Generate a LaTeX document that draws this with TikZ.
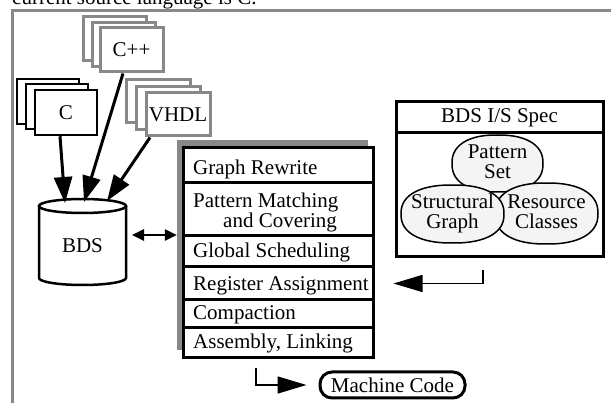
\documentclass[tikz,border=0pt]{standalone}
\usepackage{fontspec}
\setmainfont{Liberation Serif}
\usetikzlibrary{arrows.meta,shapes.geometric,calc}
\definecolor{framegray}{HTML}{888888}
\definecolor{ellfill}{HTML}{F4F4F4}
\newcommand\superell[3]{\draw[line width=1.5pt,fill=ellfill,shift={(#1)}] plot[domain=2.5:357.5,samples=72,smooth cycle] ({#2*sign(cos(\x))*abs(cos(\x))^0.85},{#3*sign(sin(\x))*abs(sin(\x))^0.85});}
\begin{document}
\begin{tikzpicture}[x=1pt,y=-1pt,
  txt/.style={font=\fontsize{21pt}{20pt}\selectfont},
  blackpage/.style={draw=black,fill=white,line width=2.5pt,minimum width=62pt,minimum height=45pt,inner sep=0pt,txt},
  graypage/.style={draw=framegray,fill=white,line width=3pt,minimum width=63pt,minimum height=44pt,inner sep=0pt,txt},
  bigarrow/.style={line width=3pt,-{Triangle[length=26pt,width=18pt]}},
  thinarrow/.style={line width=1.5pt,-{Triangle[length=29pt,width=17pt]}},
  phase/.style={draw=black,fill=white,line width=3pt,minimum width=190pt,inner sep=0pt},
  phasetxt/.style={txt,anchor=base west,inner sep=0pt},
  blob/.style={inner sep=0pt,align=center,txt},
  specbox/.style={draw=black,fill=white,line width=3pt,minimum width=207pt,inner sep=0pt,txt}]
\useasboundingbox (0,0) rectangle (611,403);
\clip (0,0) rectangle (611,403);
% caption fragment and outer frame
\node[txt,anchor=base west,inner sep=0pt] (cap) at (12,5) {current source language is C.};
\draw[framegray,line width=3.5pt] (12.5,420) -- (12.5,10.5) -- (630,10.5);
% C++ stack
\node[graypage] (cppb) at (114.5,39) {};
\node[graypage] (cppm) at (123.5,45) {};
\node[graypage] (cppf) at (131.5,50) {C++};
% C stack
\node[blackpage] (cb) at (48,101.5) {};
\node[blackpage] (cm) at (57,106.5) {};
\node[blackpage] (cf) at (66,112.5) {C};
% VHDL stack
\node[graypage,minimum width=64pt,minimum height=43pt] (vb) at (158,101.5) {};
\node[graypage,minimum width=64pt,minimum height=43pt] (vm) at (168,108) {};
\node[graypage,minimum width=64pt,minimum height=43pt] (vf) at (178,114.5) {VHDL};
% BDS cylinder
\draw[line width=2.5pt,fill=white] (39,206) -- (39,278) arc[start angle=180,end angle=0,x radius=43.5,y radius=7] -- (126,206);
\draw[line width=2.5pt,fill=white] (82.5,206) ellipse[x radius=43.5,y radius=7];
\node[txt,minimum width=87pt,minimum height=70pt,inner sep=0pt] (bds) at (82.5,246) {BDS};
\coordinate (bdsA) at (65,203);
\coordinate (bdsB) at (84,202);
\coordinate (bdsC) at (107,201);
\draw[bigarrow] ([xshift=-6pt]cf.south) -- (bdsA);
\draw[bigarrow] ([xshift=-8.5pt]cppf.south) -- (bdsB);
\draw[bigarrow] ([xshift=-28pt]vf.south) -- (bdsC);
% phase stack
\node[fill=framegray,minimum width=191pt,minimum height=210pt,inner sep=0pt] (shadow) at (272.5,245) {};
\node[phase,minimum height=35pt] (gr) at (278,165.5) {};
\node[phase,minimum height=53pt] (pm) at (278,209.5) {};
\node[phase,minimum height=31pt] (gs) at (278,251.5) {};
\node[phase,minimum height=33pt] (reg) at (278,283.5) {};
\node[phase,minimum height=28pt] (cmp) at (278,314) {};
\node[phase,minimum height=30pt] (asm) at (278,343) {};
\node[phasetxt] (tgr) at (193,175) {Graph Rewrite};
\node[phasetxt] (tpm1) at (193,208) {Pattern Matching};
\node[phasetxt] (tpm2) at (223,228) {and Covering};
\node[phasetxt] (tgs) at (193,258) {Global Scheduling};
\node[phasetxt] (treg) at (193,291) {Register Assignment};
\node[phasetxt] (tcmp) at (193,320) {Compaction};
\node[phasetxt] (tasm) at (193,349) {Assembly, Linking};
% double arrow BDS <-> phases
\coordinate (d1) at (132,235);
\draw[line width=2.5pt,{Triangle[length=12pt,width=11pt]}-{Triangle[length=12pt,width=11pt]}] (d1) -- (d1 -| shadow.west);
% BDS I/S Spec
\node[specbox,minimum height=31pt] (specT) at (499.5,117.5) {BDS I/S Spec};
\node[specbox,minimum height=124pt] (specB) at (499.5,195) {};
\superell{497.5,163.5}{45.5}{28.5}
\node[blob] (pset) at (497.5,162) {Pattern\\Set};
\superell{546.5,213.5}{51.5}{30.5}
\node[blob] (rc) at (546.5,212) {Resource\\Classes};
\superell{452.5,214}{51.5}{29}
\node[blob] (sg) at (452.5,213) {Structural\\Graph};
% spec -> register assignment
\coordinate (s1) at (483,270);
\draw[thinarrow,shorten >=19pt] (s1) |- (reg.east);
% machine code
\node[txt,draw=black,line width=3pt,rounded corners=12pt,minimum width=145pt,minimum height=26pt,inner sep=0pt] (mc) at (392.5,385) {Machine Code};
\coordinate (m1) at (256,368);
\draw[thinarrow,shorten >=12pt] (m1) |- (mc.west);
\end{tikzpicture}
\end{document}
